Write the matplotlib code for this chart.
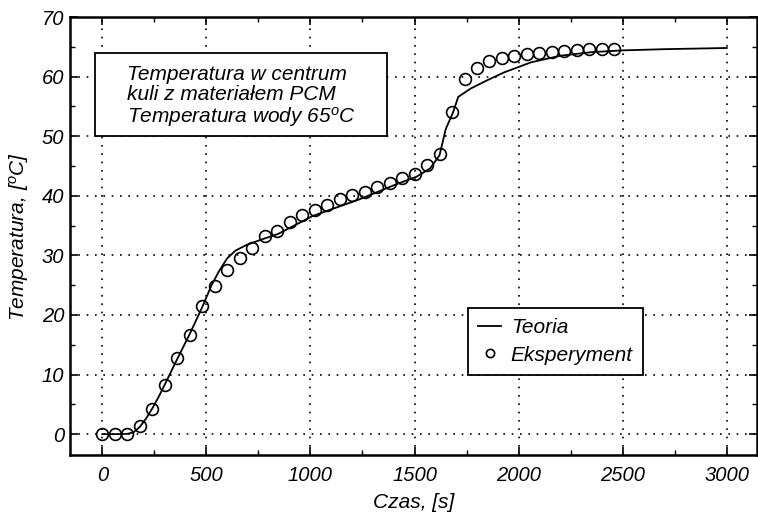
import numpy as np
import matplotlib
matplotlib.use('Agg')
import matplotlib.pyplot as plt
from matplotlib.patches import Rectangle
from matplotlib.ticker import MultipleLocator

plt.rcParams['font.family'] = ['Liberation Sans', 'DejaVu Sans']
plt.rcParams['font.style'] = 'italic'
plt.rcParams['mathtext.fontset'] = 'custom'
plt.rcParams['mathtext.rm'] = 'Liberation Sans:italic'
plt.rcParams['mathtext.it'] = 'Liberation Sans:italic'

# teoria (linia ciagla)
t_teoria = [0, 60, 120, 150, 180, 210, 240, 270, 300, 360, 420, 480, 525, 560, 600,
            640, 690, 760, 845, 1010, 1235, 1410, 1510, 1575, 1620, 1650, 1685,
            1710, 1770, 1850, 1930, 2060, 2200, 2350, 2500, 2700, 3000]
T_teoria = [0, 0, 0.05, 0.3, 1.2, 2.6, 4.3, 6.2, 8.3, 12.6, 16.8, 21.3, 25.0, 27.3, 29.5,
            30.8, 31.7, 32.6, 33.6, 36.6, 39.4, 41.9, 43.2, 44.6, 46.8, 51.2, 54.0,
            56.6, 58.0, 59.4, 60.7, 62.4, 63.5, 64.1, 64.4, 64.6, 64.8]

# eksperyment (punkty)
t_eksp = [0, 60, 120, 180, 240, 300, 360, 420, 480, 540, 600, 660, 720, 780, 840,
          900, 960, 1020, 1080, 1140, 1200, 1260, 1320, 1380, 1440, 1500, 1560,
          1620, 1680, 1740, 1800, 1860, 1920, 1980, 2040, 2100, 2160, 2220, 2280,
          2340, 2400, 2460]
T_eksp = [0, 0, 0.05, 1.3, 4.3, 8.3, 12.7, 16.6, 21.5, 24.8, 27.5, 29.5, 31.3, 33.3, 34.1,
          35.6, 36.8, 37.6, 38.5, 39.5, 40.1, 40.7, 41.5, 42.2, 42.9, 43.7, 45.2,
          47.0, 54.0, 59.6, 61.5, 62.6, 63.2, 63.5, 63.8, 64.0, 64.2, 64.3, 64.4,
          64.6, 64.6, 64.7]

fig = plt.figure(figsize=(7.58, 5.21), dpi=100)
ax = fig.add_axes([70/758, 1 - 455/521, 687/758, 438/521])

ax.plot(t_teoria, T_teoria, color='black', lw=1.3, label='Teoria')
ax.plot(t_eksp, T_eksp, linestyle='none', marker='o', ms=8.5, mfc='none',
        mec='black', mew=1.2, label='Eksperyment')

ax.set_xlim(-155, 3145)
ax.set_ylim(-3.5, 70)
ax.xaxis.set_major_locator(MultipleLocator(500))
ax.xaxis.set_minor_locator(MultipleLocator(250))
ax.yaxis.set_major_locator(MultipleLocator(10))
ax.yaxis.set_minor_locator(MultipleLocator(5))
ax.tick_params(which='both', direction='in', top=True, right=True, colors='black')
ax.tick_params(which='major', length=6, width=1.2, labelsize=14.5)
ax.tick_params(which='minor', length=3.5, width=1.0)
ax.tick_params(axis='x', pad=8)
ax.tick_params(axis='y', pad=4)
for s in ax.spines.values():
    s.set_linewidth(1.8)
ax.grid(True, which='major', color='black', linestyle=(0, (1, 4)), linewidth=1.2)

ax.set_xlabel('Czas, [s]', fontsize=15, labelpad=6)
ax.set_ylabel('Temperatura, [$^o$C]', fontsize=15, labelpad=8)

ax.add_patch(Rectangle((25/687, (455-136)/438), 292/687, 83/438, transform=ax.transAxes,
                       fill=True, facecolor='white', edgecolor='black', lw=1.3, zorder=5))
ax.text(57/687, (455-97)/438,
        'Temperatura w centrum\nkuli z materiałem PCM\nTemperatura wody 65$^o$C',
        transform=ax.transAxes, fontsize=15, va='center', ha='left',
        linespacing=1.05, zorder=6)

leg = ax.legend(loc='upper left', bbox_to_anchor=((468-70)/687, (455-308)/438),
                borderaxespad=0, fontsize=15, handlelength=1.1, handletextpad=0.45,
                fancybox=False, framealpha=1, edgecolor='black', borderpad=0.5,
                labelspacing=0.4, markerscale=0.7)
leg.get_frame().set_linewidth(1.3)

fig.savefig('out.png', dpi=100)
